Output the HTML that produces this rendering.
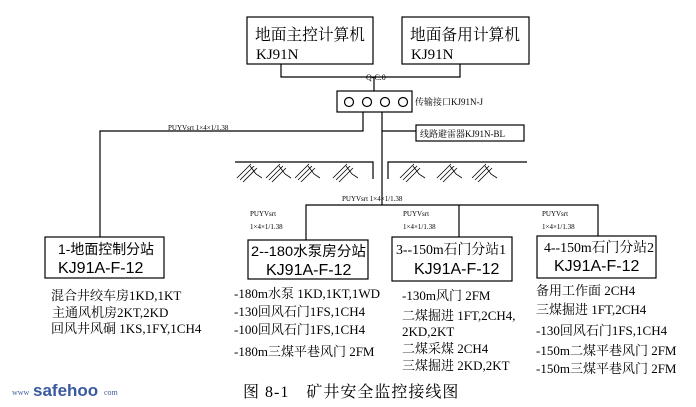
<!DOCTYPE html>
<html><head><meta charset="utf-8"><style>
html,body{margin:0;padding:0;background:#fff;}
svg{display:block;}
text{font-family:"Liberation Serif","Noto Serif CJK SC",serif;fill:#000;}
.s{font-family:"Liberation Sans","Noto Sans CJK SC",sans-serif;}
</style></head><body>
<svg width="696" height="407" viewBox="0 0 696 407" xmlns="http://www.w3.org/2000/svg">
<g fill="none" stroke="#000" stroke-width="1.2">
<rect x="247" y="17" width="126" height="47"/>
<rect x="402" y="17" width="127" height="47"/>
<polyline points="281,64 281,77 460,77 460,64"/>
<line x1="374" y1="77" x2="374" y2="91"/>
<rect x="337" y="91" width="75" height="21"/>
<circle cx="349" cy="102" r="4.5"/><circle cx="367" cy="102" r="4.5"/><circle cx="385" cy="102" r="4.5"/><circle cx="403" cy="102" r="4.5"/>
<polyline points="363,112 363,131 100,131 100,237"/>
<line x1="382" y1="112" x2="382" y2="205"/>
<line x1="382" y1="131" x2="416" y2="131"/>
<rect x="416" y="125" width="108" height="16"/>
<polyline points="235,162 373,162 373,179"/>
<polyline points="527,162 388,162 388,179"/>
<polyline points="306,240 306,205 598,205 598,236"/>
<line x1="459" y1="205" x2="459" y2="237"/>
<rect x="45" y="237" width="119" height="41"/>
<rect x="248" y="240" width="120" height="39"/>
<rect x="392" y="237" width="120" height="44"/>
<rect x="537" y="236" width="119" height="42"/>
</g>
<g stroke="#000" stroke-width="0.8" fill="none">
<path id="h" d="M237,178 L251,164 M240,180 L254,166 M243,182 L257,168 M250,166 L256,174 L262,178"/>
<use href="#h" x="29"/><use href="#h" x="58"/><use href="#h" x="96"/>
<use href="#h" x="163"/><use href="#h" x="200"/><use href="#h" x="235"/>
</g>
<text x="255" y="40" font-size="16" textLength="110" lengthAdjust="spacingAndGlyphs">地面主控计算机</text>
<text x="256" y="59" font-size="15">KJ91N</text>
<text x="410" y="40" font-size="16" textLength="110" lengthAdjust="spacingAndGlyphs">地面备用计算机</text>
<text x="411" y="59" font-size="15">KJ91N</text>
<text x="366" y="80" font-size="8">Q-C.0</text>
<text x="415" y="105" font-size="9">传输接口KJ91N-J</text>
<text x="420" y="137" font-size="9">线路避雷器KJ91N-BL</text>
<text x="168" y="130" font-size="7">PUYVsrt 1×4×1/1.38</text>
<text x="342" y="201" font-size="7">PUYVsrt 1×4×1/1.38</text>
<text x="250" y="216" font-size="7">PUYVsrt</text><text x="250" y="229" font-size="7">1×4×1/1.38</text>
<text x="403" y="216" font-size="7">PUYVsrt</text><text x="403" y="229" font-size="7">1×4×1/1.38</text>
<text x="542" y="216" font-size="7">PUYVsrt</text><text x="542" y="229" font-size="7">1×4×1/1.38</text>
<text class="s" x="58" y="254" font-size="14" textLength="96" lengthAdjust="spacingAndGlyphs">1-地面控制分站</text>
<text class="s" x="58" y="273" font-size="16">KJ91A-F-12</text>
<text class="s" x="251" y="256" font-size="14" textLength="115" lengthAdjust="spacingAndGlyphs">2--180水泵房分站</text>
<text class="s" x="266" y="275" font-size="16">KJ91A-F-12</text>
<text x="396" y="254" font-size="14" textLength="110" lengthAdjust="spacingAndGlyphs">3--150m石门分站1</text>
<text class="s" x="414" y="274" font-size="16">KJ91A-F-12</text>
<text x="544" y="252" font-size="14" textLength="110" lengthAdjust="spacingAndGlyphs">4--150m石门分站2</text>
<text class="s" x="554" y="271" font-size="16">KJ91A-F-12</text>
<g font-size="13">
<text x="51" y="300">混合井绞车房1KD,1KT</text>
<text x="52" y="317">主通风机房2KT,2KD</text>
<text x="51" y="333">回风井风硐 1KS,1FY,1CH4</text>
<text x="234" y="298">-180m水泵 1KD,1KT,1WD</text>
<text x="234" y="316">-130回风石门1FS,1CH4</text>
<text x="234" y="334">-100回风石门1FS,1CH4</text>
<text x="234" y="356">-180m三煤平巷风门 2FM</text>
<text x="402" y="300">-130m风门 2FM</text>
<text x="402" y="320">二煤掘进 1FT,2CH4,</text>
<text x="402" y="336">2KD,2KT</text>
<text x="402" y="353">二煤采煤 2CH4</text>
<text x="402" y="370">三煤掘进 2KD,2KT</text>
<text x="536" y="295">备用工作面 2CH4</text>
<text x="536" y="314">三煤掘进 1FT,2CH4</text>
<text x="536" y="335">-130回风石门1FS,1CH4</text>
<text x="536" y="355">-150m二煤平巷风门 2FM</text>
<text x="536" y="373">-150m三煤平巷风门 2FM</text>
</g>
<text x="12" y="395" font-size="8" style="fill:#4060a0">www</text>
<text class="s" x="33" y="396" font-size="17" font-weight="bold" style="fill:#3a5aa0">safehoo</text>
<text x="104" y="395" font-size="8" style="fill:#4060a0">com</text>
<text x="243" y="397" font-size="16" letter-spacing="1">图 8-1　矿井安全监控接线图</text>
</svg>
</body></html>
